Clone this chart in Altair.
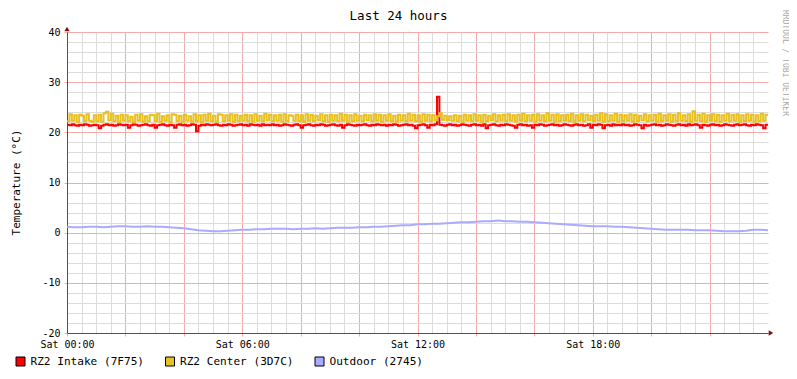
import altair as alt
import pandas as pd

# ---------------- data ----------------
series_names = ["RZ2 Intake (7F75)", "RZ2 Center (3D7C)", "Outdoor (2745)"]
series_colors = ["#FF0000", "#E8C020", "#AAAAFF"]

step_minutes = 5  # one value every 5 minutes, 00:00 .. 23:55

intake = [
    21.5, 21.4, 21.6, 21.4, 21.3, 21.5, 21.4, 21.6, 21.5, 21.3, 21.4, 21.5,
    21.4, 20.8, 21.3, 21.5, 21.6, 21.4, 21.5, 21.3, 21.4, 21.6, 21.5, 21.4,
    21.5, 20.9, 21.4, 21.6, 21.5, 21.3, 21.4, 21.5, 21.6, 21.4, 21.3, 21.5,
    20.9, 21.4, 21.5, 21.6, 21.4, 21.3, 21.5, 21.4, 20.9, 21.5, 21.6, 21.4,
    21.5, 21.3, 21.4, 21.6, 21.5, 20.2, 21.3, 21.5, 21.4, 21.6, 21.5, 21.4,
    21.5, 21.6, 21.4, 21.3, 21.5, 21.4, 21.6, 21.5, 21.3, 21.4, 21.5, 21.6,
    21.4, 21.5, 21.3, 21.6, 21.5, 21.4, 21.5, 21.3, 21.6, 21.4, 21.5, 21.4,
    21.6, 21.4, 21.5, 21.3, 21.4, 21.6, 21.5, 21.4, 21.3, 21.5, 21.6, 21.4,
    20.9, 21.4, 21.5, 21.6, 21.4, 21.3, 21.5, 21.4, 21.6, 21.5, 21.3, 21.4,
    21.5, 21.6, 21.4, 21.3, 21.5, 20.9, 21.4, 21.6, 21.5, 21.4, 21.3, 21.5,
    21.4, 21.5, 21.6, 21.4, 21.3, 21.5, 21.4, 21.6, 21.5, 21.4, 21.5, 21.3,
    21.5, 21.4, 21.6, 21.5, 21.3, 21.4, 21.5, 21.6, 21.4, 21.5, 21.3, 20.8,
    21.4, 21.5, 21.6, 21.4, 20.9, 21.5, 21.4, 21.6, 27.1, 21.5, 21.4, 21.3,
    21.5, 21.6, 21.4, 21.5, 21.3, 21.4, 21.6, 21.5, 21.4, 21.3, 21.5, 21.6,
    21.4, 21.5, 21.3, 21.6, 20.8, 21.4, 21.5, 21.6, 21.4, 21.3, 21.5, 21.4,
    21.6, 21.5, 21.4, 21.3, 20.9, 21.5, 21.6, 21.4, 21.5, 21.3, 21.4, 20.9,
    21.5, 21.4, 21.6, 21.5, 21.3, 21.4, 21.5, 21.6, 21.4, 21.5, 21.3, 21.4,
    21.6, 21.5, 21.4, 21.3, 21.5, 21.6, 21.4, 21.5, 21.3, 21.4, 21.6, 20.9,
    21.5, 21.4, 21.6, 21.5, 20.8, 21.4, 21.5, 21.3, 21.6, 21.4, 21.5, 21.4,
    21.6, 21.4, 21.5, 21.3, 21.4, 21.6, 21.5, 21.4, 20.8, 21.5, 21.3, 21.4,
    21.5, 21.6, 21.4, 21.5, 21.3, 21.4, 21.6, 21.5, 21.4, 21.3, 21.5, 21.6,
    21.4, 21.5, 21.3, 21.6, 21.4, 21.5, 21.6, 21.4, 20.9, 21.5, 21.4, 21.3,
    21.5, 21.6, 21.4, 21.5, 21.3, 21.4, 21.6, 21.5, 21.4, 21.3, 21.5, 21.6,
    21.4, 21.5, 21.6, 21.4, 21.3, 21.5, 21.4, 21.6, 21.5, 21.4, 20.8, 21.5,
]

center = [
    22.2, 23.6, 22.3, 23.4, 22.1, 23.5, 23.3, 22.2, 23.6, 22.3, 22.1, 23.4,
    22.2, 23.5, 22.1, 23.8, 24.1, 22.4, 23.7, 22.2, 23.3, 22.1, 23.5, 22.3,
    23.4, 22.2, 23.1, 22.0, 23.5, 22.3, 23.6, 22.1, 23.2, 22.2, 23.5, 23.4,
    22.2, 23.7, 22.1, 23.2, 22.3, 23.4, 22.0, 23.6, 23.5, 22.2, 23.3, 22.1,
    23.5, 22.3, 23.2, 22.1, 23.6, 22.2, 23.4, 22.0, 23.5, 22.3, 23.7, 22.2,
    23.3, 22.1, 23.6, 23.5, 22.2, 23.4, 22.3, 23.6, 22.1, 23.5, 22.2, 23.3,
    22.3, 23.5, 22.2, 23.4, 22.1, 23.6, 22.3, 23.3, 22.2, 23.7, 22.4, 23.5,
    22.2, 23.4, 22.3, 23.5, 22.1, 23.6, 22.2, 23.4, 23.3, 22.3, 23.5, 22.2,
    23.4, 22.1, 23.6, 22.3, 23.5, 22.2, 23.3, 22.4, 23.6, 22.2, 23.4, 22.1,
    23.5, 22.3, 23.4, 22.2, 23.7, 22.3, 23.5, 22.1, 23.4, 22.2, 23.6, 22.3,
    23.3, 22.2, 23.5, 22.4, 23.4, 22.2, 23.6, 22.3, 23.5, 22.1, 23.4, 22.3,
    23.6, 22.2, 23.3, 22.1, 23.5, 22.3, 23.4, 22.2, 23.7, 22.3, 23.5, 22.2,
    23.4, 22.1, 23.6, 22.3, 23.5, 22.2, 23.4, 22.4, 23.2, 23.8, 22.5, 23.3,
    22.4, 23.2, 22.3, 23.4, 22.2, 23.3, 22.1, 23.5, 22.3, 23.4, 22.2, 23.6,
    22.3, 23.4, 22.1, 23.5, 22.2, 23.3, 22.4, 23.6, 22.2, 23.4, 22.3, 23.5,
    22.2, 23.6, 22.3, 23.4, 22.1, 23.5, 22.3, 23.7, 22.2, 23.4, 22.3, 23.5,
    22.1, 23.6, 22.3, 23.4, 22.2, 23.8, 22.3, 23.5, 22.1, 23.6, 22.2, 23.4,
    22.3, 23.5, 22.2, 23.7, 22.1, 23.4, 22.3, 23.6, 22.2, 23.5, 22.4, 23.3,
    22.2, 23.5, 22.3, 23.8, 22.1, 23.6, 22.2, 23.4, 22.3, 23.7, 22.1, 23.5,
    22.2, 23.4, 22.3, 23.6, 22.1, 23.5, 22.2, 23.3, 22.4, 23.6, 22.2, 23.4,
    22.3, 23.5, 22.1, 23.7, 22.2, 23.4, 22.3, 23.6, 22.1, 23.5, 22.2, 23.8,
    22.3, 23.4, 22.2, 23.6, 22.1, 24.2, 22.3, 23.5, 22.2, 23.7, 22.1, 23.4,
    22.3, 23.6, 22.2, 23.5, 22.1, 23.4, 22.3, 23.7, 22.2, 23.5, 22.3, 23.6,
    22.1, 23.4, 22.2, 23.6, 22.3, 23.5, 22.1, 23.4, 22.2, 23.7, 22.3, 23.5,
]

outdoor_step_minutes = 15  # 00:00 .. 24:00
outdoor = [
    1.2, 1.1, 1.1, 1.2, 1.2, 1.1, 1.2, 1.3, 1.3, 1.2, 1.2, 1.3,
    1.2, 1.2, 1.1, 1.0, 0.9, 0.7, 0.5, 0.4, 0.3, 0.3, 0.4, 0.5,
    0.6, 0.6, 0.7, 0.7, 0.8, 0.8, 0.8, 0.7, 0.8, 0.8, 0.9, 0.8,
    0.9, 1.0, 1.0, 1.0, 1.1, 1.1, 1.2, 1.2, 1.3, 1.4, 1.5, 1.5,
    1.7, 1.7, 1.8, 1.8, 1.9, 2.0, 2.1, 2.1, 2.2, 2.3, 2.3, 2.4,
    2.3, 2.3, 2.2, 2.2, 2.1, 2.0, 1.9, 1.8, 1.7, 1.6, 1.5, 1.4,
    1.3, 1.3, 1.3, 1.2, 1.2, 1.1, 1.0, 0.9, 0.8, 0.7, 0.6, 0.6,
    0.6, 0.6, 0.5, 0.5, 0.5, 0.4, 0.3, 0.3, 0.3, 0.4, 0.6, 0.6,
    0.5,
]

x_tick_hours = [0, 6, 12, 18]
x_tick_labels = ["Sat 00:00", "Sat 06:00", "Sat 12:00", "Sat 18:00"]

title_text = "Last 24 hours"
y_title = "Temperature (°C)"
watermark = "RRDTOOL / TOBI OETIKER"

# ---------------- frames ----------------
def step_frame(values, step, name):
    hours = [i * step / 60 for i in range(len(values))]
    hours.append(len(values) * step / 60)  # close the final step at the right edge
    vals = list(values) + [values[-1]]
    return pd.DataFrame({"hour": hours, "temp": vals, "series": name})

def line_frame(values, step, name):
    hours = [i * step / 60 for i in range(len(values))]
    return pd.DataFrame({"hour": hours, "temp": values, "series": name})

df_intake = step_frame(intake, step_minutes, series_names[0])
df_center = step_frame(center, step_minutes, series_names[1])
df_outdoor = line_frame(outdoor, outdoor_step_minutes, series_names[2])

FONT = "DejaVu Sans Mono"
GRID_MINOR = "#DCDCDC"
GRID_MAJOR = "#F2AAAA"
AXIS_COL = "#555050"
ARROW_COL = "#7F1010"

# layout (pixels, relative to the plot area's top-left corner)
PLOT_W, PLOT_H = 701, 301
LEGEND_X0, LEGEND_STEP, LEGEND_Y = -46.5, 149.5, 329.5

label_expr = " : ".join(
    f"datum.value === {h} ? '{lab}'" for h, lab in zip(x_tick_hours, x_tick_labels)
) + " : ''"

x_axis = alt.Axis(
    values=[i * 0.5 for i in range(48)],
    grid=True,
    gridColor={"condition": {"test": "datum.value % 2 === 0", "value": GRID_MAJOR}, "value": GRID_MINOR},
    gridWidth=1,
    tickColor={"condition": {"test": "datum.value % 2 === 0", "value": GRID_MAJOR}, "value": "transparent"},
    tickSize=3,
    domainColor=AXIS_COL,
    labelExpr=label_expr,
    labelFont=FONT,
    labelFontSize=10,
    labelColor="#000000",
    labelPadding=3,
    labelFlush=False,
    labelOverlap=False,
    title=None,
)

y_axis = alt.Axis(
    values=[v for v in range(-20, 41, 2)],
    grid=True,
    gridColor={"condition": {"test": "datum.value % 10 === 0", "value": GRID_MAJOR}, "value": GRID_MINOR},
    gridWidth=1,
    tickColor={"condition": {"test": "datum.value % 10 === 0", "value": GRID_MAJOR}, "value": "transparent"},
    tickSize=3,
    domainColor=AXIS_COL,
    labelExpr="datum.value % 10 === 0 ? '' + datum.value : ''",
    labelFont=FONT,
    labelFontSize=10,
    labelColor="#000000",
    labelPadding=4,
    labelOverlap=False,
    title=y_title,
    titleFont=FONT,
    titleFontSize=11,
    titleFontWeight="normal",
    titleColor="#000000",
    titleAngle=270,
    titleX=-51,
    titleY=150,
    titleAlign="center",
    titleBaseline="middle",
)

x_enc = alt.X("hour:Q", scale=alt.Scale(domain=[0, 24], nice=False, zero=False), axis=x_axis)
y_enc = alt.Y("temp:Q", scale=alt.Scale(domain=[-20, 40], nice=False, zero=False), axis=y_axis)
color_scale = alt.Scale(domain=series_names, range=series_colors)
stroke_enc = alt.Stroke("series:N", scale=color_scale, legend=None)

intake_layer = alt.Chart(df_intake).mark_line(interpolate="step-after", strokeWidth=2).encode(
    x=x_enc, y=y_enc, stroke=stroke_enc)
center_layer = alt.Chart(df_center).mark_line(interpolate="step-after", strokeWidth=2).encode(
    x=x_enc, y=y_enc, stroke=stroke_enc)
outdoor_layer = alt.Chart(df_outdoor).mark_line(strokeWidth=2).encode(
    x=x_enc, y=y_enc, stroke=stroke_enc)

# legend row below the axis
legend_df = pd.DataFrame({
    "series": series_names,
    "lx": [LEGEND_X0 + LEGEND_STEP * i for i in range(len(series_names))],
})
legend_df["tx"] = legend_df["lx"] + 10
legend_boxes = alt.Chart(legend_df).mark_square(
    size=81, filled=True, stroke="black", strokeWidth=1, opacity=1
).encode(
    x=alt.X("lx:Q", scale=None, axis=None),
    y=alt.value(LEGEND_Y),
    fill=alt.Fill("series:N", scale=color_scale, legend=None),
)
legend_text = alt.Chart(legend_df).mark_text(
    align="left", baseline="middle", font=FONT, fontSize=11.1, color="#000000"
).encode(
    x=alt.X("tx:Q", scale=None, axis=None),
    y=alt.value(LEGEND_Y),
    text="series:N",
)

deco = pd.DataFrame({"wm": [watermark], "title": [title_text]})
arrow_up = alt.Chart(deco).mark_point(shape="triangle-up", filled=True, size=28, color=ARROW_COL, opacity=1).encode(
    x=alt.value(0), y=alt.value(-3))
arrow_right = alt.Chart(deco).mark_point(shape="triangle-right", filled=True, size=28, color=ARROW_COL, opacity=1).encode(
    x=alt.value(PLOT_W + 3), y=alt.value(PLOT_H))
wm_layer = alt.Chart(deco).mark_text(angle=90, font=FONT, fontSize=8, color="#A8A8A8",
                                     align="center", baseline="middle").encode(
    x=alt.value(PLOT_W + 17), y=alt.value(31), text="wm:N")
title_layer = alt.Chart(deco).mark_text(font=FONT, fontSize=12.5, color="#000000",
                                        align="center", baseline="middle").encode(
    x=alt.value(331.5), y=alt.value(-16), text="title:N")

chart = alt.layer(
    intake_layer, center_layer, outdoor_layer,
    legend_boxes, legend_text, arrow_up, arrow_right, wm_layer, title_layer
).properties(
    width=PLOT_W, height=PLOT_H,
    autosize=alt.AutoSizeParams(type="none"),
    padding={"left": 59, "top": 24, "right": 21, "bottom": 37},
    background="#FFFFFF",
).configure_view(strokeWidth=0)

chart.save("out.html", embed_options={"renderer": "svg", "actions": False})
